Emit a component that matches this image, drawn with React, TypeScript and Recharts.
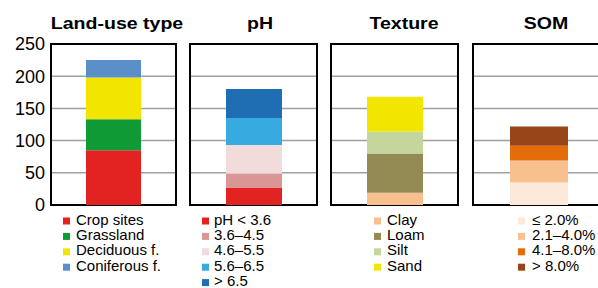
import React from 'react';
import { BarChart, Bar, XAxis, YAxis, CartesianGrid, ReferenceArea } from 'recharts';

const yTicks = [0, 50, 100, 150, 200, 250];

const panelTitles = ['Land-use type', 'pH', 'Texture', 'SOM'];

const landUseLabels = ['Crop sites', 'Grassland', 'Deciduous f.', 'Coniferous f.'];
const landUseValues = [85, 48, 65, 27];
const landUseColors = ['#e32322', '#0f9a35', '#f2e500', '#5b8fc9'];

const phLabels = ['pH < 3.6', '3.6–4.5', '4.6–5.5', '5.6–6.5', '> 6.5'];
const phValues = [27, 22, 44, 42, 45];
const phColors = ['#e32322', '#d99694', '#f2dcdb', '#37aadf', '#1f6db2'];

const textureLabels = ['Clay', 'Loam', 'Silt', 'Sand'];
const textureValues = [19, 61, 34, 54];
const textureColors = ['#f8bf8f', '#948a54', '#c3d69b', '#f2e500'];

const somLabels = ['≤ 2.0%', '2.1–4.0%', '4.1–8.0%', '> 8.0%'];
const somValues = [35, 34, 23, 30];
const somColors = ['#fde9d9', '#f8c08f', '#e46c0a', '#984619'];

type PanelCfg = {
  title: string;
  labels: string[];
  values: number[];
  colors: string[];
  plotLeft: number;
  plotWidth: number;
  barSize: number;
  showAxis: boolean;
  titleX: number;
  squareX: number;
  textX: number;
};

const panels: PanelCfg[] = [
  { title: panelTitles[0], labels: landUseLabels, values: landUseValues, colors: landUseColors, plotLeft: 51, plotWidth: 125, barSize: 55, showAxis: true, titleX: 117, squareX: 63, textX: 76 },
  { title: panelTitles[1], labels: phLabels, values: phValues, colors: phColors, plotLeft: 190, plotWidth: 127, barSize: 56, showAxis: false, titleX: 260, squareX: 202, textX: 214 },
  { title: panelTitles[2], labels: textureLabels, values: textureValues, colors: textureColors, plotLeft: 331, plotWidth: 127, barSize: 56, showAxis: false, titleX: 404, squareX: 374, textX: 387 },
  { title: panelTitles[3], labels: somLabels, values: somValues, colors: somColors, plotLeft: 473, plotWidth: 132, barSize: 58, showAxis: false, titleX: 546, squareX: 518, textX: 532 },
];

const FONT = '"Liberation Sans", Arial, Helvetica, sans-serif';

function Panel({ cfg }: { cfg: PanelCfg }) {
  const row: Record<string, number | string> = { name: cfg.title };
  cfg.labels.forEach((l, i) => {
    row['k' + i] = cfg.values[i];
  });
  const data = [row];
  const marginL = cfg.showAxis ? 0 : 2;
  const yAxisW = cfg.showAxis ? cfg.plotLeft : 0;
  const divLeft = cfg.showAxis ? 0 : cfg.plotLeft - 2;
  const width = yAxisW + marginL + cfg.plotWidth + 2;
  return (
    <div style={{ position: 'absolute', left: divLeft, top: 0 }}>
      <BarChart
        width={width}
        height={217}
        data={data}
        margin={{ top: 44, right: 2, bottom: 12, left: marginL }}
        barCategoryGap={0}
      >
        <CartesianGrid horizontal vertical={false} stroke="#a0a0a0" strokeWidth={1.5} />
        <XAxis dataKey="name" hide />
        <YAxis
          domain={[0, 250]}
          ticks={yTicks}
          hide={!cfg.showAxis}
          width={yAxisW}
          axisLine={false}
          tickLine={false}
          tickSize={6}
          tickMargin={0}
          interval={0}
          tick={{ fill: '#000', fontSize: 18, fontFamily: FONT }}
        />
        {cfg.labels.map((l, i) => (
          <Bar
            key={l}
            dataKey={'k' + i}
            stackId="s"
            fill={cfg.colors[i]}
            barSize={cfg.barSize}
            isAnimationActive={false}
          />
        ))}
        <ReferenceArea y1={0} y2={250} fill="none" fillOpacity={0} stroke="#000" strokeWidth={2} ifOverflow="visible" />
      </BarChart>
    </div>
  );
}

export default function App() {
  return (
    <div
      style={{
        position: 'fixed',
        left: 0,
        top: 0,
        width: 598,
        height: 288,
        overflow: 'hidden',
        background: '#fff',
        fontFamily: FONT,
      }}
    >
      {panels.map((p) => (
        <Panel key={p.title} cfg={p} />
      ))}
      <svg width={598} height={288} style={{ position: 'absolute', left: 0, top: 0, pointerEvents: 'none' }}>
        {panels.map((p) => (
          <text
            key={'t' + p.title}
            transform={`translate(${p.titleX},29) scale(1.15,1)`}
            textAnchor="middle"
            fontFamily={FONT}
            fontWeight="bold"
            fontSize={17}
            fill="#000"
          >
            {p.title}
          </text>
        ))}
        {panels.map((p) =>
          p.labels.map((l, i) => {
            const base = 224.5 + i * 15.4;
            return (
              <g key={p.title + l}>
                <rect x={p.squareX} y={base - 7} width={7} height={7} fill={p.colors[i]} />
                <text x={p.textX} y={base} fontFamily={FONT} fontSize={15} fill="#000">
                  {l}
                </text>
              </g>
            );
          })
        )}
      </svg>
    </div>
  );
}
